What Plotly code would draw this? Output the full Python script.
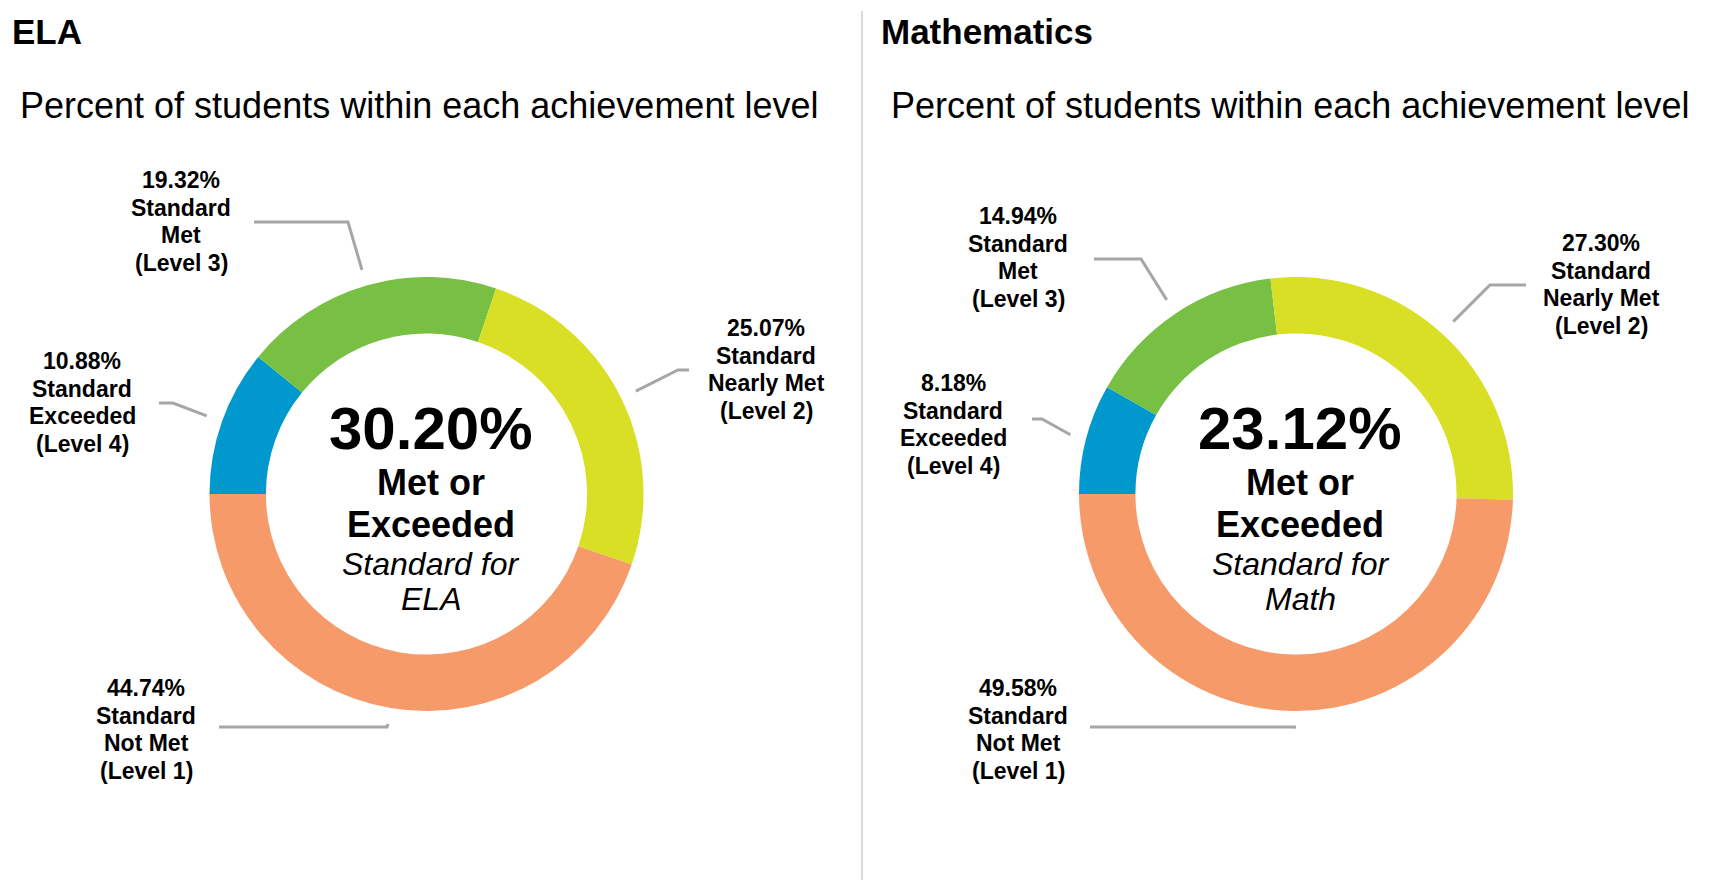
import math
import plotly.graph_objects as go

W, H = 1710, 880

# ---------------- data ----------------
level_names = ["Standard Exceeded (Level 4)", "Standard Met (Level 3)",
               "Standard Nearly Met (Level 2)", "Standard Not Met (Level 1)"]
level_lines = [["Standard", "Exceeded", "(Level 4)"],
               ["Standard", "Met", "(Level 3)"],
               ["Standard", "Nearly Met", "(Level 2)"],
               ["Standard", "Not Met", "(Level 1)"]]
ela_values = [10.88, 19.32, 25.07, 44.74]
math_values = [8.18, 14.94, 27.30, 49.58]
ela_met = 30.20
math_met = 23.12
colors = ["#0098CD", "#77C043", "#D9DF25", "#F69A6A"]

FONT = "Liberation Sans, Arial, Helvetica, sans-serif"
LINE_COLOR = "#A6A6A6"

# ---------------- layout configuration (pixels) ----------------
panels = [
    dict(values=ela_values, met=ela_met, title="ELA", short="ELA",
         title_x=10, sub_x=18, cx=426.5, cy=494, r=217,
         # label block: (center x, first line y), leader elbow, leader end
         labels=[dict(x=82, y=361, elbow=(173, 403), end=(159, 403)),
                 dict(x=181, y=180, elbow=(348, 222), end=(254, 222)),
                 dict(x=766, y=328, elbow=(678, 370), end=(689, 370)),
                 dict(x=146, y=688, elbow=(387, 727), end=(219, 727))]),
    dict(values=math_values, met=math_met, title="Mathematics", short="Math",
         title_x=879, sub_x=889, cx=1296, cy=494, r=217,
         labels=[dict(x=953, y=383, elbow=(1042, 419), end=(1032, 419)),
                 dict(x=1018, y=216, elbow=(1141, 259), end=(1094, 259)),
                 dict(x=1601, y=243, elbow=(1490, 285), end=(1526, 285)),
                 dict(x=1018, y=688, elbow=(1296, 727), end=(1090, 727))]),
]
HOLE = 0.74
ROTATION = 270
LINE_GAP = 27.7
ANCHOR_R = 1.075


def px(x):
    return x / W


def py(y):
    return 1 - y / H


fig = go.Figure()
annotations = []
shapes = []

for p in panels:
    cx, cy, r = p["cx"], p["cy"], p["r"]
    fig.add_trace(go.Pie(
        values=p["values"], labels=level_names, hole=HOLE, sort=False,
        direction="clockwise", rotation=ROTATION,
        marker=dict(colors=colors, line=dict(width=0)),
        textinfo="none", hoverinfo="label+value", showlegend=False,
        domain=dict(x=[px(cx - r), px(cx + r)], y=[py(cy + r), py(cy - r)]),
    ))

    # titles
    annotations.append(dict(text="<b>%s</b>" % p["title"], x=px(p["title_x"]), y=py(31),
                            xanchor="left", yanchor="middle", showarrow=False,
                            font=dict(size=35, color="black", family=FONT)))
    annotations.append(dict(text="Percent of students within each achievement level",
                            x=px(p["sub_x"]), y=py(105), xanchor="left", yanchor="middle",
                            showarrow=False, font=dict(size=36, color="black", family=FONT)))

    # center text
    tx = cx + 4
    center_lines = [("<b>%.2f%%</b>" % p["met"], 60, cy - 66),
                    ("<b>Met or</b>", 36, cy - 12),
                    ("<b>Exceeded</b>", 36, cy + 30),
                    ("<i>Standard for</i>", 32, cy + 70),
                    ("<i>%s</i>" % p["short"], 32, cy + 105)]
    for txt, sz, yy in center_lines:
        annotations.append(dict(text=txt, x=px(tx), y=py(yy), xanchor="center",
                                yanchor="middle", showarrow=False,
                                font=dict(size=sz, color="black", family=FONT)))

    # slice labels and leader lines
    total = sum(p["values"])
    start = ROTATION
    for i, v in enumerate(p["values"]):
        span = v / total * 360.0
        mid = math.radians(start + span / 2)
        start += span
        ax = cx + ANCHOR_R * r * math.sin(mid)
        ay = cy - ANCHOR_R * r * math.cos(mid)
        lab = p["labels"][i]
        ex, ey = lab["elbow"]
        nx, ny = lab["end"]
        path = "M %f %f L %f %f L %f %f" % (px(ax), py(ay), px(ex), py(ey), px(nx), py(ny))
        shapes.append(dict(type="path", path=path, xref="paper", yref="paper",
                           line=dict(color=LINE_COLOR, width=3)))
        lines = ["%.2f%%" % v] + level_lines[i]
        for j, t in enumerate(lines):
            annotations.append(dict(text="<b>%s</b>" % t, x=px(lab["x"]),
                                    y=py(lab["y"] + j * LINE_GAP), xanchor="center",
                                    yanchor="middle", showarrow=False,
                                    font=dict(size=23, color="black", family=FONT)))

# divider between the two panels
shapes.append(dict(type="line", xref="paper", yref="paper", x0=px(862), x1=px(862),
                   y0=py(11), y1=py(880), line=dict(color="#CCCCCC", width=1.5)))

fig.update_layout(width=W, height=H, margin=dict(l=0, r=0, t=0, b=0),
                  paper_bgcolor="white", plot_bgcolor="white",
                  annotations=annotations, shapes=shapes,
                  font=dict(family=FONT))

fig.write_html("out.html", config={"displayModeBar": False},
               post_script="document.body.style.margin='0';document.body.style.overflow='hidden';")
